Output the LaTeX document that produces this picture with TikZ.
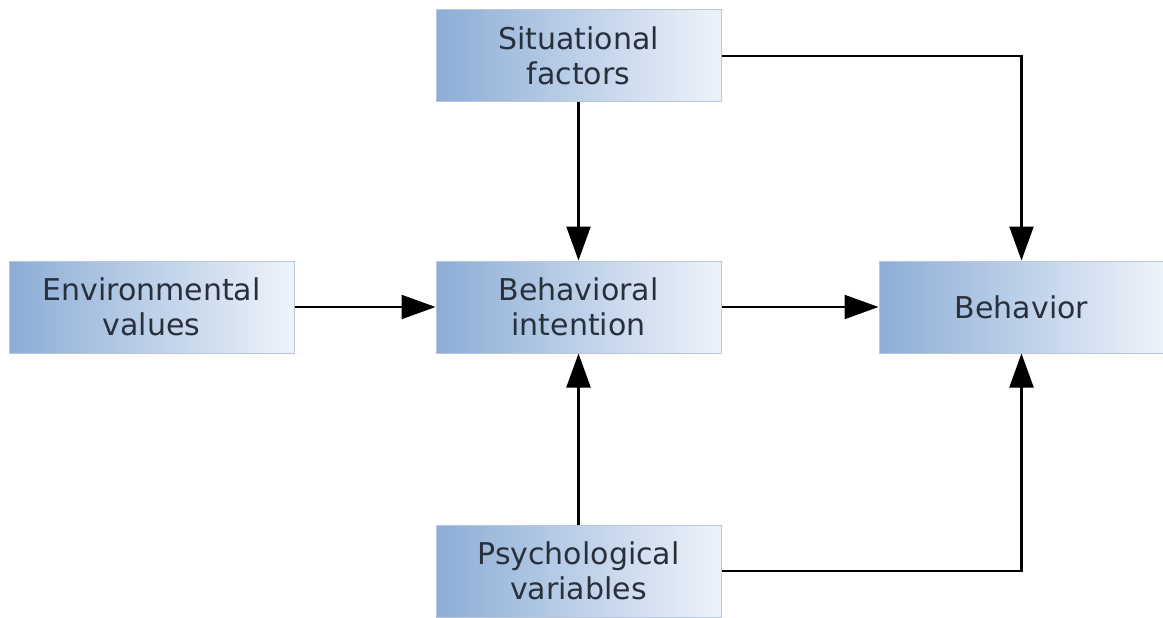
\documentclass[tikz,border=0pt]{standalone}
\usepackage{fontspec}
\setmainfont{DejaVu Sans}
\usetikzlibrary{arrows.meta}
\definecolor{boxleft}{RGB}{140,173,214}
\definecolor{boxright}{RGB}{238,243,250}
\definecolor{boxline}{RGB}{184,198,218}
\definecolor{txt}{RGB}{40,48,60}
\begin{document}
\begin{tikzpicture}[x=1pt,y=-1pt,
  factor/.style={draw=boxline, line width=1pt, left color=boxleft, right color=boxright,
    minimum width=285pt, minimum height=92pt, inner sep=0pt, align=center,
    text=txt, font=\fontsize{30}{35}\selectfont},
  link/.style={line width=2.2pt, -{Triangle[length=34pt,width=24pt]}}]
\useasboundingbox (0,0) rectangle (1163,618);
\node[factor] (sit) at (578.5,56) {Situational\\factors};
\node[factor] (env) at (151.5,307) {Environmental\\values};
\node[factor] (int) at (578.5,307) {Behavioral\\intention};
\node[factor] (beh) at (1021.5,307) {Behavior};
\node[factor] (psy) at (578.5,571) {Psychological\\variables};
\draw[link] (sit) -- (int);
\draw[link] (psy) -- (int);
\draw[link] (env) -- (int);
\draw[link] (int) -- (beh);
\draw[link] (sit.east) -| (beh.north);
\draw[link] (psy.east) -| (beh.south);
\end{tikzpicture}
\end{document}
